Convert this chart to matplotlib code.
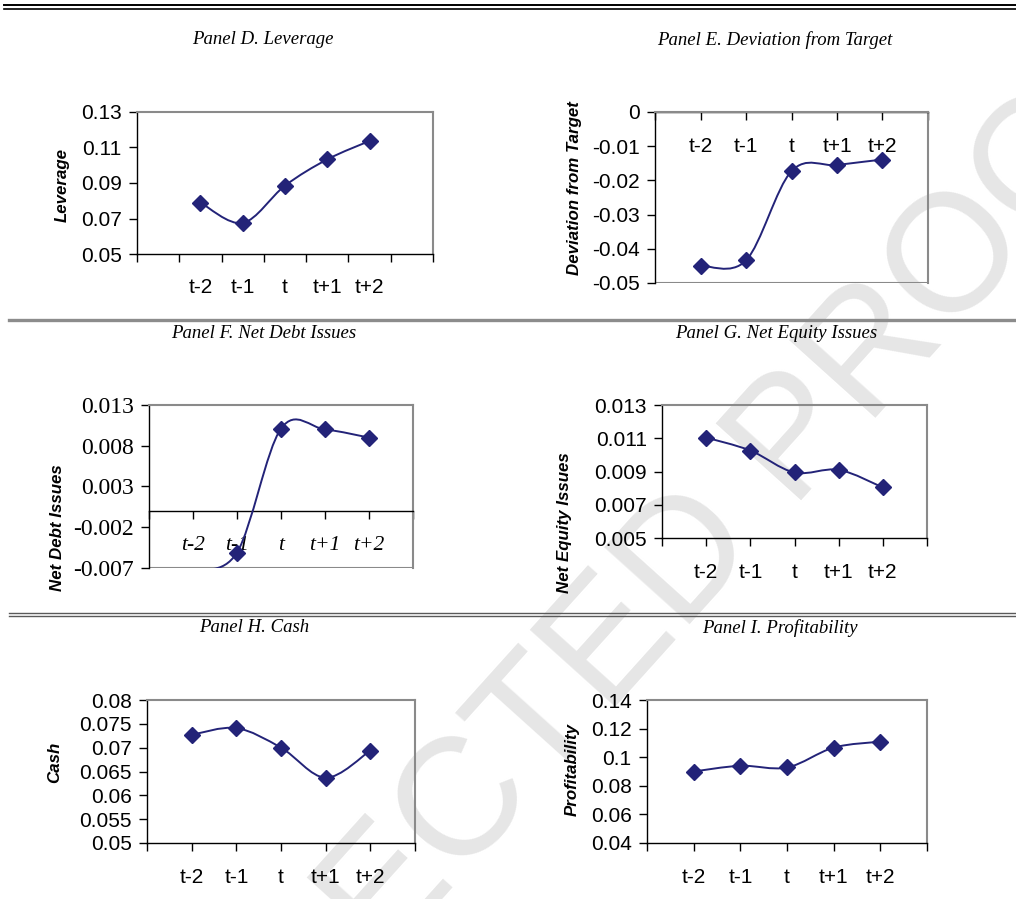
import numpy as np
import matplotlib
matplotlib.use('Agg')
import matplotlib.pyplot as plt
from matplotlib.path import Path
from matplotlib.patches import PathPatch
from matplotlib.lines import Line2D

# ---------------------------
# Data
periods = ['t-2', 't-1', 't', 't+1', 't+2']

leverage = [0.0790, 0.0675, 0.0885, 0.1033, 0.1137]
deviation = [-0.0449, -0.0434, -0.0173, -0.0155, -0.0139]
net_debt = [-0.0073, -0.0051, 0.0101, 0.0100, 0.0090]
net_equity = [0.01104, 0.01026, 0.00894, 0.00910, 0.00804]
cash = [0.0727, 0.0741, 0.0700, 0.0637, 0.0694]
profitability = [0.0900, 0.0940, 0.0928, 0.1067, 0.1109]
# ---------------------------

W, H = 1016, 899
fig = plt.figure(figsize=(W / 100, H / 100), dpi=100)
fig.patch.set_facecolor('white')

NAVY = '#232378'
FRAME = '#8a8a8a'
SANS = 'Liberation Sans'
SERIF = 'Liberation Serif'


def px_axes(left, top, right, bottom):
    # axes from pixel box (origin top-left)
    ax = fig.add_axes([left / W, 1 - bottom / H, (right - left) / W, (bottom - top) / H])
    ax.patch.set_alpha(0)
    return ax


def smooth_line(ax, x, y):
    # Excel-like smoothed line: cubic bezier through the points
    x = list(x); y = list(y)
    n = len(x)
    verts = [(x[0], y[0])]
    codes = [Path.MOVETO]
    for i in range(n - 1):
        i0 = max(i - 1, 0); i3 = min(i + 2, n - 1)
        c1 = (x[i] + (x[i + 1] - x[i0]) / 6, y[i] + (y[i + 1] - y[i0]) / 6)
        c2 = (x[i + 1] - (x[i3] - x[i]) / 6, y[i + 1] - (y[i3] - y[i]) / 6)
        verts += [c1, c2, (x[i + 1], y[i + 1])]
        codes += [Path.CURVE4] * 3
    patch = PathPatch(Path(verts, codes), fill=False, edgecolor=NAVY, lw=1.4,
                      transform=ax.transData, zorder=3)
    ax.add_patch(patch)


def make_panel(box, vals, ylo, yhi, nticks, ylabel, ylabel_xy, axis_at=None,
               between=False, serif=False):
    ax = px_axes(*box)
    ymin, ymax = ylo, yhi
    ax.set_ylim(ymin, ymax)
    yt = np.linspace(ylo, yhi, nticks)
    ax.set_yticks(yt)
    ax.set_yticklabels(['%g' % round(v, 4) for v in yt])

    if between:
        ncat = len(periods) + 2
        ax.set_xlim(0, ncat)
        x = np.arange(len(periods)) + 1.5
        ax.set_xticks(x)
        ax.set_xticklabels(periods)
        ax.set_xticks(np.arange(ncat + 1), minor=True)
        ax.tick_params(axis='x', which='major', length=0, pad=17)
        ax.tick_params(axis='x', which='minor', length=6, width=1, direction='out')
    else:
        ncat = len(periods) + 1
        ax.set_xlim(0, ncat)
        x = np.arange(len(periods)) + 1
        ax.set_xticks(np.arange(ncat + 1))
        ax.set_xticklabels([''] + periods + [''])
        ax.tick_params(axis='x', which='major', length=6, width=1, direction='out', pad=12)

    ax.tick_params(axis='y', length=6, width=1, direction='out', pad=5)

    for s in ['top', 'right', 'bottom', 'left']:
        ax.spines[s].set_color(FRAME)
        ax.spines[s].set_linewidth(1.5)
    ax.spines['left'].set_color('black')
    ax.spines['left'].set_linewidth(1.0)
    ax.spines['bottom'].set_color('black')
    ax.spines['bottom'].set_linewidth(1.0)
    if axis_at is not None:
        ax.spines['bottom'].set_position(('data', axis_at))
        ax.axhline(ymin, color=FRAME, lw=1.5, zorder=2.5)

    if serif:
        for lab in ax.get_yticklabels():
            lab.set_fontfamily(SERIF); lab.set_fontsize(17)
        for lab in ax.get_xticklabels():
            lab.set_fontfamily(SERIF); lab.set_fontstyle('italic'); lab.set_fontsize(15.5)
    else:
        for lab in ax.get_yticklabels() + ax.get_xticklabels():
            lab.set_fontfamily(SANS); lab.set_fontsize(15)

    smooth_line(ax, x, vals)
    ax.plot(x, np.ma.masked_outside(vals, ymin, ymax), linestyle='none', marker='D',
            ms=8, color=NAVY, zorder=4)

    fig.text(ylabel_xy[0] / W, 1 - ylabel_xy[1] / H, ylabel, rotation=90,
             ha='center', va='center', fontsize=12.2, fontweight='bold',
             fontstyle='italic', family=SANS)
    return ax


# Panels
make_panel((137, 112, 433, 254), leverage, 0.05, 0.13, 5, 'Leverage', (62, 185), between=True)
make_panel((655, 112, 928, 283), deviation, -0.05, 0.0, 6, 'Deviation from Target', (574, 188), axis_at=0)
make_panel((149, 405, 413, 568), net_debt, -0.007, 0.013, 5, 'Net Debt Issues', (57, 528), axis_at=0, serif=True)
make_panel((662, 405, 927, 538), net_equity, 0.005, 0.013, 5, 'Net Equity Issues', (565, 523))
make_panel((147, 700, 415, 843), cash, 0.05, 0.08, 7, 'Cash', (55, 762))
make_panel((647, 700, 927, 843), profitability, 0.04, 0.14, 6, 'Profitability', (572, 770))

# Panel titles
titles = [('Panel D. Leverage', 263, 40), ('Panel E. Deviation from Target', 775, 40),
          ('Panel F. Net Debt Issues', 264, 334), ('Panel G. Net Equity Issues', 776, 334),
          ('Panel H. Cash', 254, 628), ('Panel I. Profitability', 780, 628)]
for t, xx, yy in titles:
    fig.text(xx / W, 1 - yy / H, t, ha='center', va='center', fontsize=13.5,
             family=SERIF, fontstyle='italic')

# Separator rules
def hrule(y, x0, color, lw):
    fig.add_artist(Line2D([x0 / W, 1], [1 - y / H, 1 - y / H], color=color, lw=lw,
                          transform=fig.transFigure))

hrule(5, 4, 'black', 1.4)
hrule(8.5, 4, 'black', 1.2)
hrule(320, 9, '#8c8c8c', 2.4)
hrule(613, 9, '#5a5a5a', 1.0)
hrule(616, 9, '#5a5a5a', 1.0)

# Watermark
fig.text(510 / W, 1 - 760 / H, 'UNCORRECTED PROOF', rotation=48, fontsize=120,
         color='#e6e6e6', ha='center', va='center', family=SANS, zorder=-1,
         rotation_mode='anchor')

fig.savefig('out.png', dpi=100, facecolor='white')
